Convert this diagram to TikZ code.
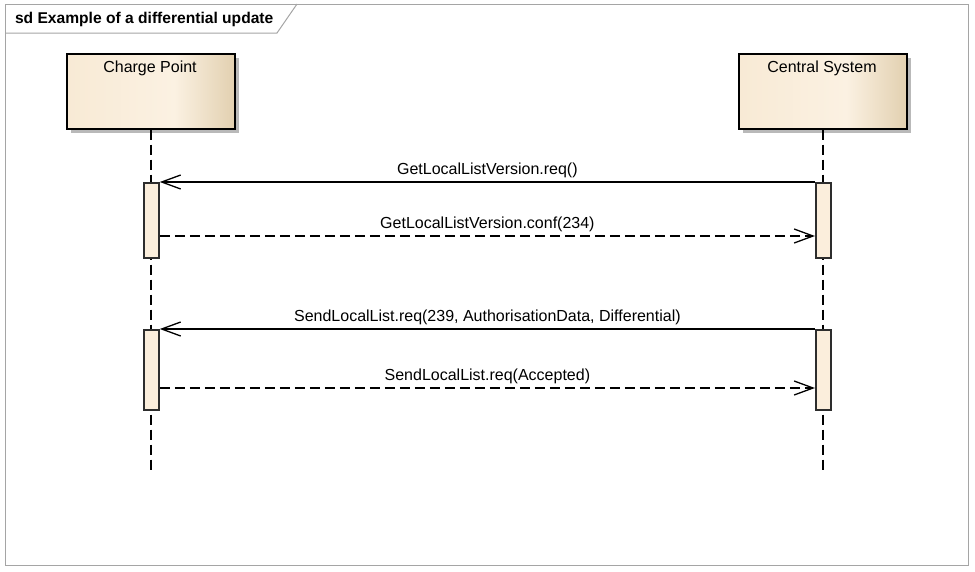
\documentclass[tikz,border=0pt]{standalone}
\usepackage{fontspec}
\setmainfont{Liberation Sans}
\usetikzlibrary{arrows.meta}
\definecolor{boxL}{RGB}{248,234,213}
\definecolor{boxM}{RGB}{251,241,226}
\definecolor{boxR}{RGB}{226,208,176}
\definecolor{actfill}{RGB}{251,238,220}
\definecolor{shadowgray}{RGB}{185,185,185}
\definecolor{framegray}{RGB}{165,165,165}
\definecolor{actline}{RGB}{45,45,45}
\pgfdeclarehorizontalshading{lifebox}{100bp}{color(0bp)=(boxL); color(25bp)=(boxL); color(57bp)=(boxM); color(75bp)=(boxR); color(100bp)=(boxR)}
\tikzset{
  lbl/.style={font=\fontsize{16}{18}\selectfont},
  headbox/.style={rectangle, draw=black, line width=1.5pt, shading=lifebox, shading angle=0,
    minimum width=168pt, minimum height=75pt, inner sep=0pt, anchor=north west},
  shadowbox/.style={rectangle, fill=shadowgray, minimum width=168pt, minimum height=75pt, inner sep=0pt, anchor=north west},
  actbox/.style={rectangle, draw=actline, line width=1.8pt, fill=actfill, minimum width=15pt, inner sep=0pt, anchor=north west},
  lifeline/.style={line width=1.2pt, dash pattern=on 10pt off 5pt},
  msg/.style={line width=1.3pt, -{Straight Barb[length=19pt, width=14pt, line width=1.3pt]}},
  reply/.style={msg, dash pattern=on 10pt off 5pt},
}
\begin{document}
\begin{tikzpicture}[x=1pt, y=-1pt]
\useasboundingbox (0,0) rectangle (975,571);
% frame
\draw[framegray, line width=1pt] (5,4) rectangle (968,565);
\draw[framegray, line width=1pt] (5,33) -- (277,33) -- (297,4);
\node[font=\fontsize{15.6}{18}\selectfont\bfseries, anchor=base west] (title) at (11.5,23.5) {sd Example of a differential update};
% head shadows
\node[shadowbox] (cpsh) at (71,58) {};
\node[shadowbox] (cssh) at (743,58) {};
% heads
\node[headbox] (cp) at (66,53) {};
\node[headbox] (cs) at (738,53) {};
\node[lbl, anchor=base] (cptxt) at (150,72.5) {Charge Point};
\node[lbl, anchor=base] (cstxt) at (822,72.5) {Central System};
% lifeline ends
\coordinate (cpend) at (151,474);
\coordinate (csend) at (823,474);
\draw[lifeline] (cp.south -| cpend) -- (cpend);
\draw[lifeline] (cs.south -| csend) -- (csend);
% activations
\node[actbox, minimum height=75pt] (cpa1) at (143,182) {};
\node[actbox, minimum height=75pt] (csa1) at (815,182) {};
\node[actbox, minimum height=80pt] (cpa2) at (143,329) {};
\node[actbox, minimum height=80pt] (csa2) at (815,329) {};
% message rows
\coordinate (m2) at (0,236);
\coordinate (m4) at (0,388);
\draw[msg] (csa1.north west) -- node[lbl, above=2pt, inner sep=2pt] (l1) {GetLocalListVersion.req()} (cpa1.north east);
\draw[reply] (cpa1.east |- m2) -- node[lbl, above=2pt, inner sep=2pt] (l2) {GetLocalListVersion.conf(234)} (csa1.west |- m2);
\draw[msg] (csa2.north west) -- node[lbl, above=2pt, inner sep=2pt] (l3) {SendLocalList.req(239, AuthorisationData, Differential)} (cpa2.north east);
\draw[reply] (cpa2.east |- m4) -- node[lbl, above=2pt, inner sep=2pt] (l4) {SendLocalList.req(Accepted)} (csa2.west |- m4);
\end{tikzpicture}
\end{document}
